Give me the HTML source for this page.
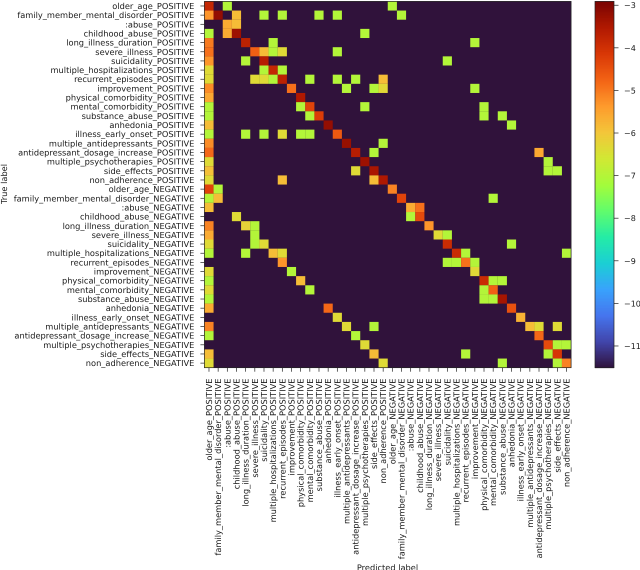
<!DOCTYPE html>
<html lang="en">
<head>
<meta charset="utf-8">
<title>Confusion matrix heatmap</title>
<style>
html,body{margin:0;padding:0;background:#fff;width:640px;height:570px;overflow:hidden}
svg{display:block;font-family:"DejaVu Sans","Liberation Sans",sans-serif;fill:#1a1a1a;text-rendering:geometricPrecision;filter:blur(0.35px)}
</style>
</head>
<body>
<svg id="chart" width="640" height="570" viewBox="0 0 640 570" xmlns="http://www.w3.org/2000/svg"></svg>
<script>
const classNames = ["older_age","family_member_mental_disorder",":abuse","childhood_abuse","long_illness_duration","severe_illness","suicidality","multiple_hospitalizations","recurrent_episodes","improvement","physical_comorbidity","mental_comorbidity","substance_abuse","anhedonia","illness_early_onset","multiple_antidepressants","antidepressant_dosage_increase","multiple_psychotherapies","side_effects","non_adherence"];
const polarities = ["POSITIVE","NEGATIVE"];
const colorbarTicks = [-3,-4,-5,-6,-7,-8,-9,-10,-11];
const floorValue = -11.51;
const ceilingValue = -2.91;
// Each row: [predicted column, log probability] for every non-floor cell.
const matrixRows = [
[[0,-3.8],[2,-7],[20,-7]],
[[0,-5.3],[1,-3.2],[3,-5.85],[6,-7],[8,-7],[12,-7],[14,-7],[21,-7]],
[[2,-5.6],[3,-5.85]],
[[0,-7],[2,-5.6],[3,-3.3],[17,-7]],
[[0,-5],[4,-3.7],[7,-7],[29,-7]],
[[0,-4.9],[5,-4.7],[6,-5.85],[7,-7],[8,-6.35],[14,-7]],
[[0,-5.3],[4,-7],[6,-3.6],[26,-7]],
[[0,-6.35],[6,-7],[7,-3.8],[8,-7]],
[[0,-6.35],[5,-6.35],[6,-6.35],[7,-7],[8,-3.7],[11,-7],[14,-7],[16,-7],[19,-5.85]],
[[0,-5.2],[9,-4.9],[15,-7],[18,-7],[19,-6.3],[29,-7]],
[[0,-5.55],[10,-3.5]],
[[0,-7],[10,-7],[11,-4.3],[17,-7],[30,-7]],
[[0,-7],[11,-7],[12,-4.2],[30,-7],[32,-7]],
[[0,-5.85],[13,-3.2],[33,-7]],
[[0,-7],[4,-7],[6,-7],[8,-6.35],[10,-7],[11,-7],[14,-4.6]],
[[0,-5.2],[15,-3.25],[19,-7]],
[[0,-4.8],[16,-3.6],[18,-7],[36,-5.55]],
[[0,-6.35],[17,-3.3],[37,-7]],
[[0,-5.9],[16,-6.35],[18,-3.45],[37,-7],[38,-7]],
[[0,-6.35],[8,-5.85],[18,-5.85],[19,-3.5]],
[[0,-4.3],[1,-7],[20,-5.1]],
[[0,-7],[1,-5.85],[21,-4.3],[31,-7]],
[[0,-5.85],[22,-5.6],[23,-4.9]],
[[3,-6.35],[22,-7],[23,-4.4]],
[[0,-5.1],[4,-6.2],[5,-7],[24,-5.3]],
[[0,-5.6],[5,-7],[25,-6.35],[26,-7]],
[[0,-6.35],[5,-7],[6,-6.35],[26,-3.9],[33,-7]],
[[0,-7],[4,-7],[7,-5.85],[8,-6.35],[27,-3.9],[28,-7],[39,-7]],
[[8,-5.3],[26,-7],[27,-7],[28,-4.9],[29,-7]],
[[0,-6.35],[9,-7],[29,-6.3]],
[[0,-7],[10,-5.85],[30,-3.9],[31,-7],[32,-7]],
[[0,-6.35],[11,-7],[30,-7],[31,-4.7]],
[[0,-7],[30,-7],[31,-7],[32,-3.4]],
[[0,-5.6],[13,-4.8],[33,-4.5]],
[[14,-6.35],[34,-5.7]],
[[0,-5.1],[15,-6.35],[18,-7],[35,-5.85],[36,-6.35],[38,-6.35]],
[[0,-7],[16,-7],[36,-4.8]],
[[17,-6.35],[37,-4.4],[38,-7],[39,-7]],
[[0,-5.85],[18,-5.85],[28,-7],[37,-7],[38,-4.1]],
[[0,-6.35],[19,-6.35],[32,-7],[38,-7],[39,-5.1]]
];

const NS = "http://www.w3.org/2000/svg";
const svg = document.getElementById("chart");
const plot = {left:204.4, top:1.4, right:571.1, bottom:367.7};
const bar = {left:595, right:614};
const labelSize = 8.25;
const labels = [];
polarities.forEach(p => classNames.forEach(c => labels.push(c + "_" + p)));
const cellW = (plot.right - plot.left) / labels.length;
const cellH = (plot.bottom - plot.top) / labels.length;
const colX = c => plot.left + c * cellW;
const rowY = r => plot.top + r * cellH;
const valueT = v => Math.max(0, Math.min(1, (v - floorValue) / (ceilingValue - floorValue)));
const barY = v => plot.bottom - valueT(v) * (plot.bottom - plot.top);

const turboStops = [[48,18,59],[65,69,171],[70,117,237],[57,162,252],[27,207,212],[36,236,166],[97,252,108],[164,252,59],[209,232,52],[243,198,58],[254,155,45],[243,99,21],[217,56,6],[177,25,1],[122,4,2]];
function turbo(t){
  const p = t * (turboStops.length - 1);
  const i = Math.min(turboStops.length - 2, Math.floor(p));
  const f = p - i;
  const a = turboStops[i], b = turboStops[i + 1];
  return "rgb(" + [0,1,2].map(k => Math.round(a[k] + (b[k] - a[k]) * f)).join(",") + ")";
}
function mk(tag, attrs, parent){
  const el = document.createElementNS(NS, tag);
  for (const k in attrs) el.setAttribute(k, attrs[k]);
  (parent || svg).appendChild(el);
  return el;
}

// heatmap background (floor cells)
const bg = mk("rect",{x:plot.left,y:plot.top,width:plot.right-plot.left,height:plot.bottom-plot.top,fill:turbo(valueT(floorValue))});



// heatmap cells
matrixRows.forEach((row, r) => {
  row.forEach(pair => {
    const c = pair[0], v = pair[1];
    const cell = mk("rect",{x:colX(c),y:rowY(r),width:cellW,height:cellH,fill:turbo(valueT(v))});
    
    
  });
});

// y tick marks and labels
labels.forEach((name, i) => {
  const y = rowY(i) + cellH / 2;
  const t = mk("line",{x1:plot.left-4,x2:plot.left,y1:y,y2:y,stroke:"#222","stroke-width":0.7});
  
  
  const l = mk("text",{x:plot.left-10,y:y+3,"text-anchor":"end","font-size":labelSize});
  
  
  l.textContent = name;
});

// x tick marks and labels
labels.forEach((name, i) => {
  const x = colX(i) + cellW / 2;
  const t = mk("line",{x1:x,x2:x,y1:plot.bottom,y2:plot.bottom+4,stroke:"#222","stroke-width":0.7});
  
  
  const l = mk("text",{transform:"translate("+(x+3)+",378.5) rotate(-90)","text-anchor":"end","font-size":labelSize});
  
  
  l.textContent = name;
});

// plot frame
const frame = mk("rect",{x:plot.left,y:plot.top,width:plot.right-plot.left,height:plot.bottom-plot.top,fill:"none",stroke:"#222","stroke-width":0.7});



// axis titles
const xTitle = mk("text",{x:387.5,y:570.5,"text-anchor":"middle","font-size":labelSize});


xTitle.textContent = "Predicted label";
const yTitle = mk("text",{transform:"translate(7,184) rotate(-90)","text-anchor":"middle","font-size":labelSize});


yTitle.textContent = "True label";

// colorbar gradient
const steps = 256;
for (let i = 0; i < steps; i++){
  const v = floorValue + (ceilingValue - floorValue) * (i + 0.5) / steps;
  const h = (plot.bottom - plot.top) / steps;
  const s = mk("rect",{x:bar.left,y:plot.bottom-(i+1)*h,width:bar.right-bar.left,height:h+0.4,fill:turbo(valueT(v))});
  
  
}
const barFrame = mk("rect",{x:bar.left,y:plot.top,width:bar.right-bar.left,height:plot.bottom-plot.top,fill:"none",stroke:"#222","stroke-width":0.7});



// colorbar ticks
colorbarTicks.forEach(v => {
  const y = barY(v);
  const t = mk("line",{x1:bar.right,x2:bar.right+4.5,y1:y,y2:y,stroke:"#222","stroke-width":0.7});
  
  
  const l = mk("text",{x:bar.right+10,y:y+3,"font-size":8});
  
  
  l.textContent = "\u2212" + Math.abs(v);
});
</script>
</body>
</html>
